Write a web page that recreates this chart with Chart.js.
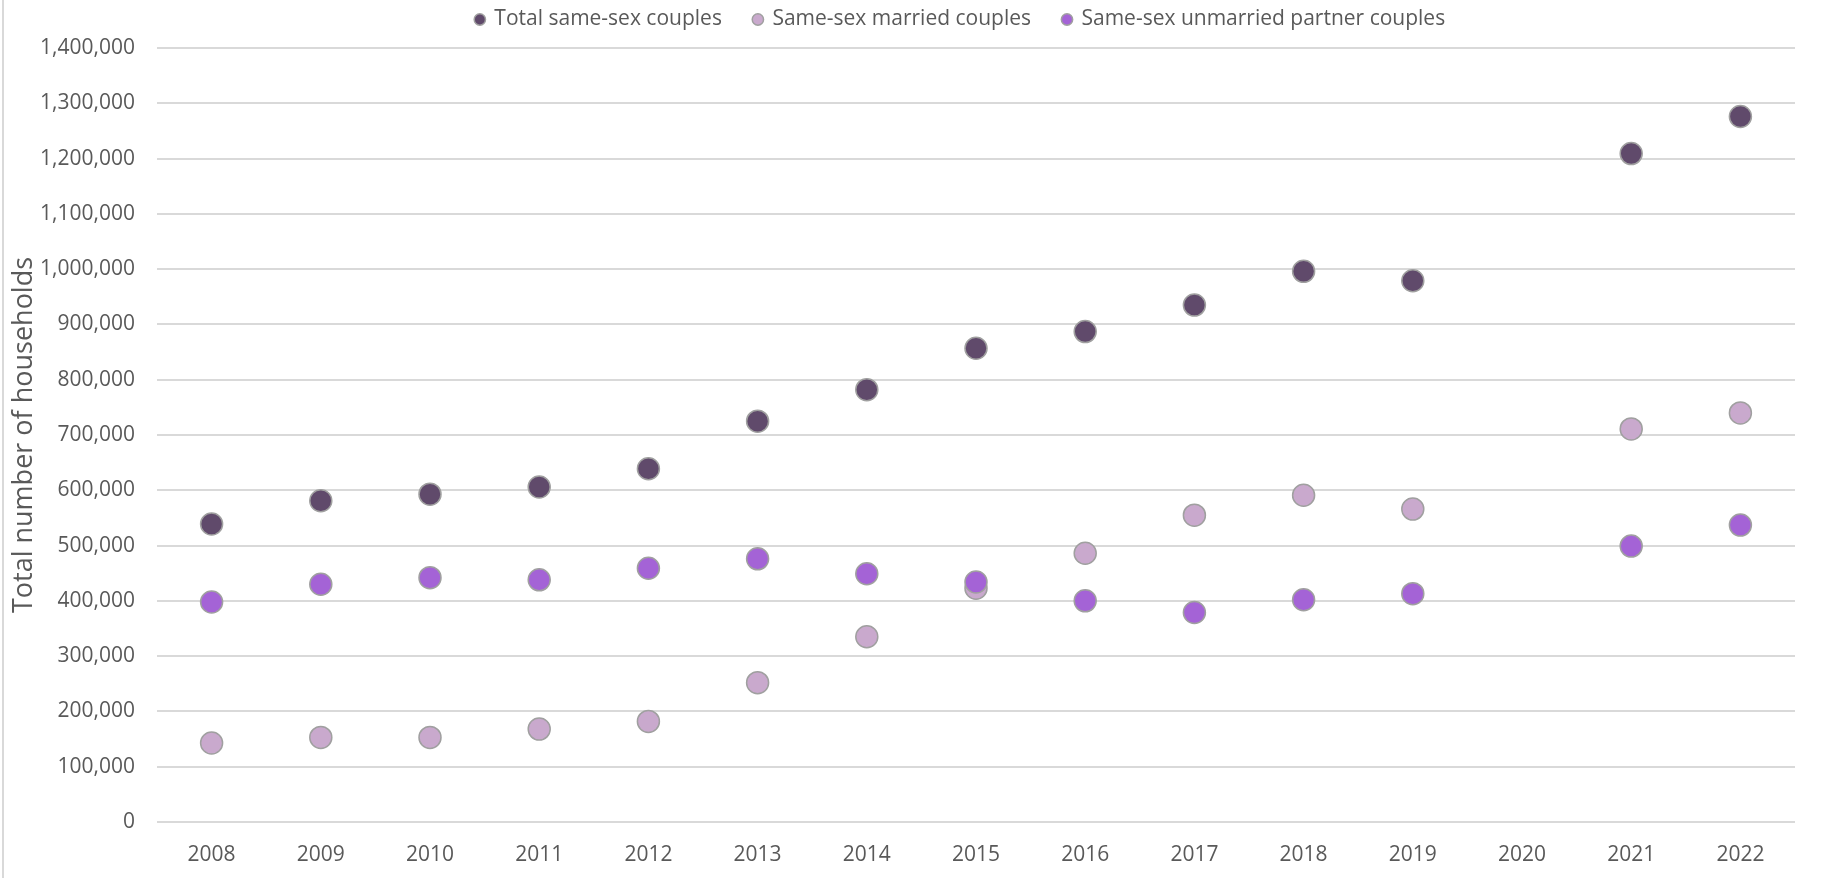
<!DOCTYPE html>
<html>
<head>
<meta charset="utf-8">
<script src="https://cdn.jsdelivr.net/npm/chart.js@4.4.1/dist/chart.umd.min.js"></script>
<style>
  html, body { margin: 0; padding: 0; background: #fff; }
  #wrap { position: relative; width: 1821px; height: 878px; }
  #frame { position: absolute; left: 2px; top: 0; width: 2px; height: 878px; background: #d9d9d9; }
</style>
</head>
<body>
<div id="wrap">
  <canvas id="coupleChart" width="1821" height="878"></canvas>
  <div id="frame"></div>
</div>
<script>
// Chart data
const years = ['2008', '2009', '2010', '2011', '2012', '2013', '2014', '2015', '2016', '2017', '2018', '2019', '2020', '2021', '2022'];
const totalCouples = [539000, 581000, 593000, 606000, 639000, 725000, 782000, 857000, 887000, 935000, 996000, 979000, null, 1209000, 1276000];
const marriedCouples = [143000, 153000, 153000, 168000, 182000, 252000, 335000, 423000, 486000, 555000, 591000, 566000, null, 711000, 740000];
const unmarriedCouples = [398000, 430000, 442000, 438000, 459000, 476000, 449000, 434000, 400000, 379000, 402000, 413000, null, 499000, 537000];

const textColor = '#595959';
const fontFamily = '"Open Sans", "DejaVu Sans", sans-serif';

// moves the legend so it sits centred over the plot like the original
const legendShift = {
    id: 'legendShift',
    afterLayout(chart) {
        chart.legend.left += 63;
        chart.legend.right += 63;
        chart.legend.top -= 8;
        chart.legend.bottom -= 8;
    }
};

function dotSeries(label, data, color, order) {
    return {
        label: label,
        data: data,
        showLine: false,
        backgroundColor: color,
        borderColor: '#a0a0a0',
        pointBackgroundColor: color,
        pointBorderColor: '#a0a0a0',
        pointBorderWidth: 1.5,
        pointRadius: 11,
        pointHoverRadius: 11,
        order: order
    };
}

document.addEventListener('DOMContentLoaded', () => {
    const ctx = document.getElementById('coupleChart').getContext('2d');
    new Chart(ctx, {
        type: 'line',
        data: {
            labels: years,
            datasets: [
                dotSeries('Total same-sex couples', totalCouples, '#604a6b', 2),
                dotSeries('Same-sex married couples', marriedCouples, '#c9a9cd', 1),
                dotSeries('Same-sex unmarried partner couples', unmarriedCouples, '#a463d6', 0)
            ]
        },
        options: {
            responsive: false,
            animation: false,
            layout: { padding: { left: 0, right: 26, top: -15, bottom: 0 } },
            plugins: {
                legend: {
                    position: 'top',
                    labels: {
                        usePointStyle: true,
                        pointStyle: 'circle',
                        boxWidth: 8,
                        boxHeight: 8,
                        padding: 32,
                        color: textColor,
                        font: { family: fontFamily, size: 21 },
                        sort: (a, b) => a.datasetIndex - b.datasetIndex
                    }
                },
                tooltip: { enabled: false }
            },
            scales: {
                x: {
                    offset: true,
                    grid: { display: false, drawTicks: false },
                    border: { display: false },
                    ticks: { color: textColor, padding: 20, font: { family: fontFamily, size: 21 } },
                    afterFit(scale) { scale.height = 56; }
                },
                y: {
                    min: 0,
                    max: 1400000,
                    grid: { color: '#d9d9d9', lineWidth: 2, drawTicks: false },
                    border: { display: false },
                    ticks: {
                        stepSize: 100000,
                        color: textColor,
                        padding: 22,
                        font: { family: fontFamily, size: 21 },
                        callback: (v) => v.toLocaleString('en-US')
                    },
                    title: {
                        display: true,
                        text: 'Total number of households',
                        color: textColor,
                        padding: { top: 8, bottom: 0 },
                        font: { family: fontFamily, size: 27 }
                    },
                    afterFit(scale) { scale.width = 157; }
                }
            }
        },
        plugins: [legendShift]
    });
});
</script>
</body>
</html>
